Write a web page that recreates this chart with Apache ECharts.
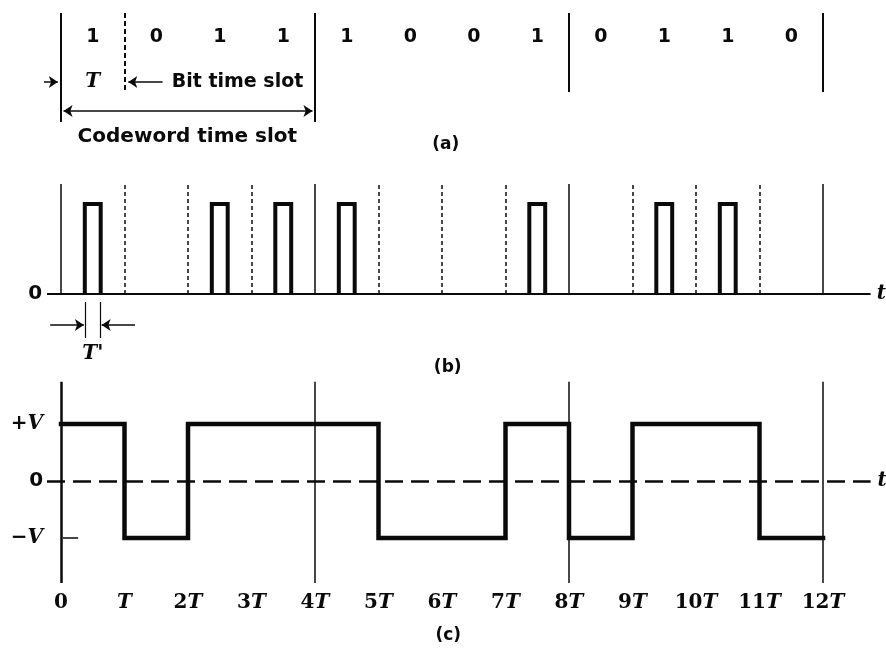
<!DOCTYPE html>
<html><head><meta charset="utf-8">
<script src="https://cdn.jsdelivr.net/npm/echarts@6/dist/echarts.min.js"></script>
<style>html,body{margin:0;padding:0;background:#fff}#c{width:886px;height:652px}</style>
</head><body><div id="c"></div>
<script>
// ---- data ----
const bits = [1, 0, 1, 1, 1, 0, 0, 1, 0, 1, 1, 0];
const tickLabels = ['0', 'T', '2T', '3T', '4T', '5T', '6T', '7T', '8T', '9T', '10T', '11T', '12T'];
const levelValues = [1, 0, -1];
const levelLabels = ['+V', '0', '\u2212V'];
const codewordBounds = [0, 4, 8, 12];
const bitBounds = [1, 2, 3, 5, 6, 7, 9, 10, 11];
const pulseWidth = 0.25;            // T' as a fraction of T
const panelLabels = ['(a)', '(b)', '(c)'];
const textBitSlot = 'Bit time slot';
const textCodeword = 'Codeword time slot';

// ---- styles ----
const INK = '#0a0a0a';
const SANS = 'DejaVu Sans';
const SERIF = 'DejaVu Serif';
const noBorder = { textBorderWidth: 0, textBorderColor: 'transparent', textShadowBlur: 0 };
const richSerif = {
  n: Object.assign({ fontFamily: SERIF, fontWeight: 'bold', fontSize: 20, color: INK }, noBorder),
  t: Object.assign({ fontFamily: SERIF, fontWeight: 'bold', fontStyle: 'italic', fontSize: 20, color: INK }, noBorder),
  s: Object.assign({ fontFamily: SANS, fontWeight: 'bold', fontSize: 20, color: INK }, noBorder)
};
function serifRich(s) {
  return s.replace(/([^TV]+)/g, '{n|$1}').replace(/([TV])/g, '{t|$1}');
}

const chart = echarts.init(document.getElementById('c'), null, { renderer: 'canvas' });

const GL = 45.125, GW = 838.2; // x: -0.25 .. 12.95 (T units)
const grids = [
  { left: GL, width: GW, top: 0, height: 160 },
  { left: GL, width: GW, top: 177, height: 198 },
  { left: GL, width: GW, top: 378.4, height: 205.2 }
];

function seg(x1, y1, x2, y2) { return { coords: [[x1, y1], [x2, y2]] }; }
function linesSeries(gi, data, style, extra) {
  return Object.assign({
    type: 'lines', coordinateSystem: 'cartesian2d', xAxisIndex: gi, yAxisIndex: gi,
    data: data, silent: true, symbol: 'none',
    lineStyle: Object.assign({ color: INK, width: 1.5, opacity: 1 }, style)
  }, extra || {});
}
function textSeries(gi, items) {
  return {
    type: 'scatter', xAxisIndex: gi, yAxisIndex: gi, symbolSize: 0, silent: true, clip: false,
    itemStyle: { color: INK, opacity: 1 },
    data: items.map(it => ({
      value: [it.x, it.y],
      label: Object.assign({
        show: true, position: 'inside', formatter: it.text, color: INK,
        fontFamily: SANS, fontWeight: 'bold', fontSize: 19, rich: richSerif
      }, noBorder, it.style || {})
    }))
  };
}

const series = [];

// ---------- panel (a) ----------
series.push(linesSeries(0, codewordBounds.map(x => seg(x, 13, x, x <= 4 ? 122 : 92)), { width: 2 }));
series.push(linesSeries(0, [seg(1, 13, 1, 93)], { width: 2, type: [5, 3] }));
series.push(linesSeries(0, [seg(-0.6, 82, -0.05, 82), seg(1.6, 82, 1.06, 82)], { width: 1.5 },
  { symbol: ['none', 'arrow'], symbolSize: 9 }));
series.push(linesSeries(0, [seg(0.04, 111, 3.96, 111)], { width: 1.5 },
  { symbol: ['arrow', 'arrow'], symbolSize: 9 }));
series.push(textSeries(0,
  bits.map((b, i) => ({ x: i + 0.5, y: 37, text: String(b), style: { fontSize: 19 } }))
    .concat([
      { x: 0.5, y: 82, text: '{t|T}' },
      { x: 2.78, y: 82, text: textBitSlot, style: { fontSize: 19 } },
      { x: 1.99, y: 137, text: textCodeword, style: { fontSize: 20 } },
      { x: 6.06, y: 145, text: panelLabels[0], style: { fontSize: 17 } }
    ])));

// ---------- panel (b) ----------
series.push(linesSeries(1, [seg(-0.22, 0, 12.75, 0)], { width: 2 }));
series.push(linesSeries(1, codewordBounds.map(x => seg(x, 0, x, 1.222)), { width: 1.5 }));
series.push(linesSeries(1, bitBounds.map(x => seg(x, 0, x, 1.222)), { width: 1.5, type: [4, 3] }));
series.push(linesSeries(1,
  bits.map((b, i) => b ? {
    coords: [[i + 0.5 - pulseWidth / 2, 0], [i + 0.5 - pulseWidth / 2, 1],
             [i + 0.5 + pulseWidth / 2, 1], [i + 0.5 + pulseWidth / 2, 0]]
  } : null).filter(Boolean),
  { width: 4, join: 'miter' }, { polyline: true }));
series.push(linesSeries(1, [seg(0.5 - pulseWidth / 2, -0.09, 0.5 - pulseWidth / 2, -0.49),
                            seg(0.5 + pulseWidth / 2, -0.09, 0.5 + pulseWidth / 2, -0.49)], { width: 1.2 }));
series.push(linesSeries(1, [seg(-0.17, -0.344, 0.36, -0.344), seg(1.165, -0.344, 0.64, -0.344)], { width: 1.5 },
  { symbol: ['none', 'arrow'], symbolSize: 9 }));
series.push(textSeries(1, [
  { x: 0.5, y: -0.66, text: "{t|T'}" },
  { x: 6.09, y: -0.82, text: panelLabels[1], style: { fontSize: 17 } },
  { x: 12.92, y: 0, text: '{t|t}' }
]));

// ---------- panel (c) ----------
series.push(linesSeries(2, [seg(0, -1.79, 0, 1.74)], { width: 2.5 }));
series.push(linesSeries(2, codewordBounds.slice(1).map(x => seg(x, -1.79, x, 1.74)), { width: 1.5 }));
series.push(linesSeries(2, [seg(-0.22, 0, 12.75, 0)], { width: 2.5, type: [18, 8] }));
series.push(linesSeries(2, [seg(0.03, -1, 0.27, -1)], { width: 1.5 }));
const wave = [];
bits.forEach((b, i) => { const v = b ? 1 : -1; wave.push([i, v], [i + 1, v]); });
series.push({
  type: 'line', xAxisIndex: 2, yAxisIndex: 2, data: wave, showSymbol: false, silent: true,
  lineStyle: { color: INK, width: 4.5, join: 'miter', cap: 'square' }
});
series.push(textSeries(2, [
  { x: 12.93, y: 0, text: '{t|t}' }
]));

const xAxes = [0, 1, 2].map(i => ({
  type: 'value', gridIndex: i, min: -0.25, max: 12.95, show: i === 2,
  axisLine: { show: false }, axisTick: { show: false }, splitLine: { show: false },
  axisLabel: {
    show: i === 2, margin: 9, customValues: tickLabels.map((_, k) => k),
    formatter: v => serifRich(tickLabels[Math.round(v)]), rich: richSerif
  },
  name: i === 2 ? panelLabels[2] : '', nameLocation: 'middle', nameGap: 43,
  nameTextStyle: { fontFamily: SANS, fontWeight: 'bold', fontSize: 17, color: INK, padding: [0, 32, 0, 0] }
}));
const yAxes = [
  { type: 'value', gridIndex: 0, min: 0, max: 160, inverse: true, show: false },
  {
    type: 'value', gridIndex: 1, min: -0.9, max: 1.3, show: true,
    axisLine: { show: false }, axisTick: { show: false }, splitLine: { show: false },
    axisLabel: { customValues: [0], margin: 3, formatter: () => '{s|0}', rich: richSerif }
  },
  {
    type: 'value', gridIndex: 2, min: -1.8, max: 1.8, show: true,
    axisLine: { show: false }, axisTick: { show: false }, splitLine: { show: false },
    axisLabel: {
      customValues: levelValues, margin: 2,
      formatter: v => {
        const s = levelLabels[levelValues.indexOf(v)];
        return s === '0' ? '{s|0}' : serifRich(s);
      },
      rich: richSerif
    }
  }
];

chart.setOption({
  animation: false,
  backgroundColor: '#fff',
  grid: grids,
  xAxis: xAxes,
  yAxis: yAxes,
  series: series
});
</script>
</body></html>
